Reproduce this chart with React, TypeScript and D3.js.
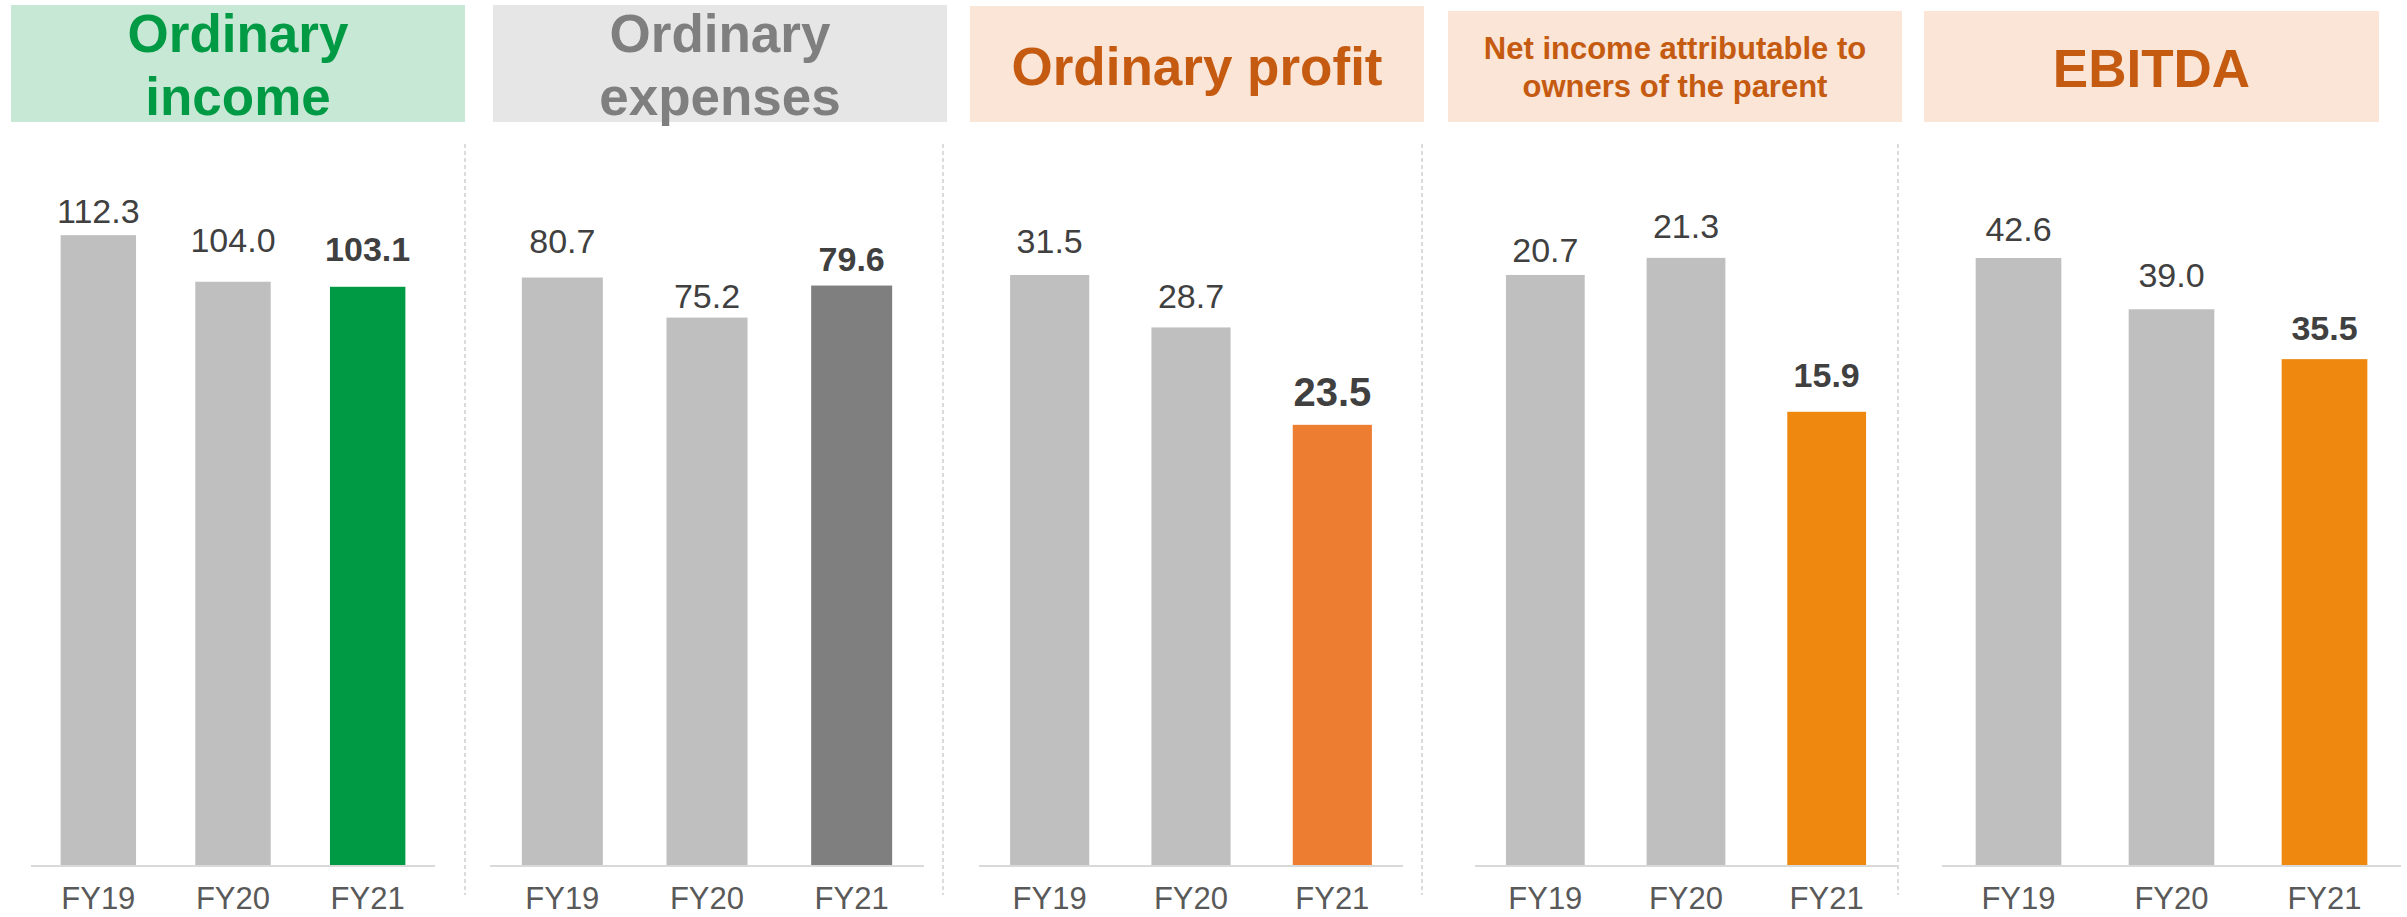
import React from "react";
import * as d3 from "d3";

// ---------- data ----------
const categories = ["FY19", "FY20", "FY21"];
const ordinaryIncome = [112.3, 104.0, 103.1];
const ordinaryExpenses = [80.7, 75.2, 79.6];
const ordinaryProfit = [31.5, 28.7, 23.5];
const netIncomeParent = [20.7, 21.3, 15.9];
const ebitda = [42.6, 39.0, 35.5];
const panelTitles = [
  ["Ordinary", "income"],
  ["Ordinary", "expenses"],
  ["Ordinary profit"],
  ["Net income attributable to", "owners of the parent"],
  ["EBITDA"],
];
const axisMax = [120, 92.45, 35.93, 23.61, 47.23];

// ---------- layout / style ----------
const W = 2407;
const H = 917;
const BASE_Y = 865;
const PLOT_H = 673;
const FONT = "'Liberation Sans', Arial, Helvetica, sans-serif";

type PanelStyle = {
  x0: number; x1: number;
  boxX0: number; boxX1: number; boxTop: number;
  boxFill: string; titleColor: string; titleSize: number; titleBaselines: number[];
  highlight: string; boldSize: number; labelGaps: number[];
};

const styles: PanelStyle[] = [
  { x0: 31, x1: 435, boxX0: 11, boxX1: 465, boxTop: 5, boxFill: "#C6E8D5", titleColor: "#009A44",
    titleSize: 53, titleBaselines: [52, 115], highlight: "#009A44", boldSize: 34, labelGaps: [12, 30, 26] },
  { x0: 490, x1: 924, boxX0: 493, boxX1: 947, boxTop: 5, boxFill: "#E7E6E6", titleColor: "#7F7F7F",
    titleSize: 53, titleBaselines: [52, 115], highlight: "#7F7F7F", boldSize: 34, labelGaps: [25, 10, 15] },
  { x0: 979, x1: 1403, boxX0: 970, boxX1: 1424, boxTop: 6, boxFill: "#FBE5D6", titleColor: "#C55A11",
    titleSize: 53, titleBaselines: [85], highlight: "#ED7D31", boldSize: 40, labelGaps: [22, 19, 19] },
  { x0: 1475, x1: 1897, boxX0: 1448, boxX1: 1902, boxTop: 11, boxFill: "#FBE5D6", titleColor: "#C55A11",
    titleSize: 31, titleBaselines: [59, 97], highlight: "#EE880E", boldSize: 34, labelGaps: [13, 20, 25] },
  { x0: 1942, x1: 2401, boxX0: 1924, boxX1: 2379, boxTop: 11, boxFill: "#FBE5D6", titleColor: "#C55A11",
    titleSize: 53, titleBaselines: [87], highlight: "#EE880E", boldSize: 34, labelGaps: [17, 22, 19] },
];
const separators = [465, 943, 1422, 1898];
const BOX_BOTTOM = 122;

const seriesList = [ordinaryIncome, ordinaryExpenses, ordinaryProfit, netIncomeParent, ebitda];

function Panel({ idx }: { idx: number }) {
  const s = styles[idx];
  const values = seriesList[idx];
  const x = d3.scaleBand<string>().domain(categories).range([s.x0, s.x1]).paddingInner(0.44).paddingOuter(0.22);
  const y = d3.scaleLinear().domain([0, axisMax[idx]]).range([BASE_Y, BASE_Y - PLOT_H]);
  const cx = (s.boxX0 + s.boxX1) / 2;
  return (
    <g>
      <rect x={s.boxX0} y={s.boxTop} width={s.boxX1 - s.boxX0} height={BOX_BOTTOM - s.boxTop} fill={s.boxFill} />
      {panelTitles[idx].map((t, i) => (
        <text key={i} x={cx} y={s.titleBaselines[i]} textAnchor="middle" fontFamily={FONT}
          fontWeight="bold" fontSize={s.titleSize} fill={s.titleColor}>{t}</text>
      ))}
      {values.map((v, i) => {
        const last = i === values.length - 1;
        const bx = x(categories[i]) as number;
        return (
          <g key={i}>
            <rect x={bx} y={y(v)} width={x.bandwidth()} height={BASE_Y - y(v)} fill={last ? s.highlight : "#BFBFBF"} />
            <text x={bx + x.bandwidth() / 2} y={y(v) - s.labelGaps[i]} textAnchor="middle" fontFamily={FONT}
              fontSize={last ? s.boldSize : 34} fontWeight={last ? "bold" : "normal"} fill="#404040">
              {v.toFixed(1)}
            </text>
            <text x={bx + x.bandwidth() / 2} y={909} textAnchor="middle" fontFamily={FONT}
              fontSize={31} fill="#595959">{categories[i]}</text>
          </g>
        );
      })}
      <line x1={s.x0} x2={s.x1} y1={BASE_Y + 1} y2={BASE_Y + 1} stroke="#D9D9D9" strokeWidth={2} />
    </g>
  );
}

export default function App() {
  return (
    <svg width={W} height={H} viewBox={`0 0 ${W} ${H}`}
      style={{ position: "absolute", left: 0, top: 0, background: "#fff" }}>
      <rect x={0} y={0} width={W} height={H} fill="#fff" />
      {separators.map((sx, i) => (
        <line key={i} x1={sx} x2={sx} y1={144} y2={895} stroke="#D0D0D0" strokeWidth={1.5} strokeDasharray="4 3" />
      ))}
      {styles.map((_, i) => <Panel key={i} idx={i} />)}
    </svg>
  );
}
